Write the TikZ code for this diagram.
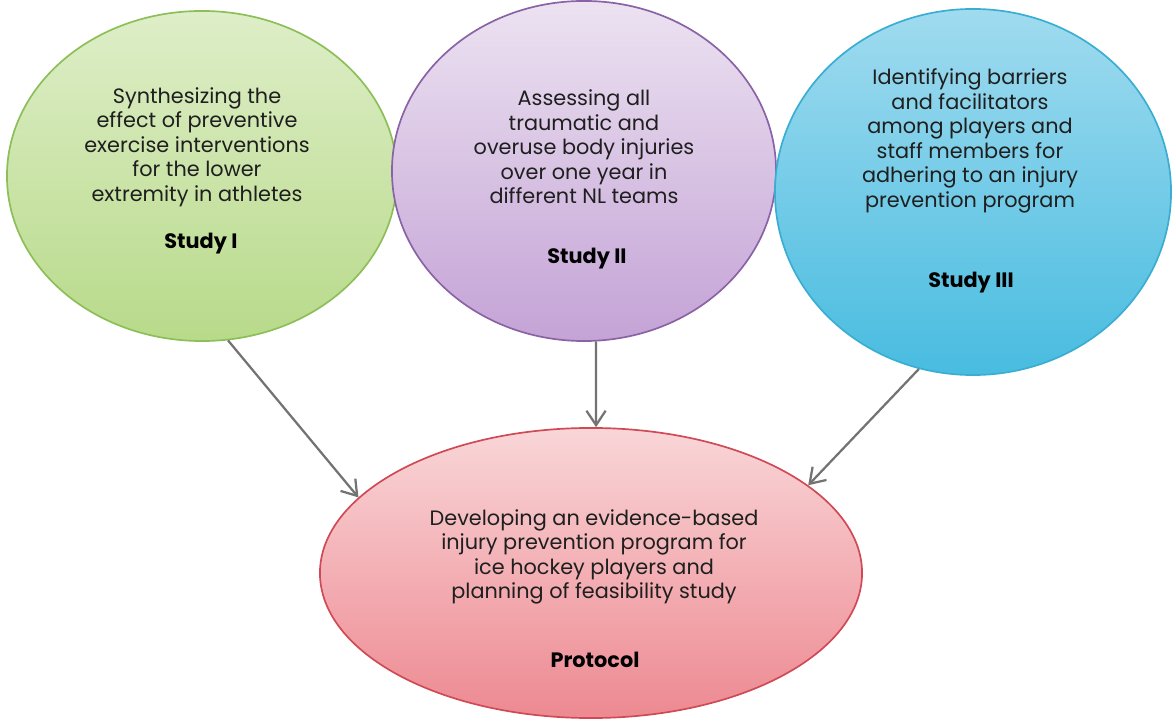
\documentclass[tikz,border=0pt]{standalone}
\usepackage{fontspec}
\setmainfont{Poppins}
\usetikzlibrary{shapes.geometric,arrows.meta}

\definecolor{greenline}{HTML}{8CBF57}
\definecolor{purpleline}{HTML}{8A63A6}
\definecolor{blueline}{HTML}{3AAED2}
\definecolor{redline}{HTML}{CF4A55}

\begin{document}
\begin{tikzpicture}[x=0.025cm,y=-0.025cm,
  bubble/.style={ellipse,draw,line width=1.2pt,inner sep=0pt},
  body/.style={align=center,text=black!88,font=\fontsize{14.8}{17.4}\selectfont},
  tag/.style={text=black,font=\fontsize{14.8}{17}\selectfont\bfseries},
  link/.style={draw=black!55,line width=1.6pt,-{Straight Barb[length=3.6mm,width=4.8mm]}}]
\useasboundingbox(0,0)rectangle(1176,720);
% the four bubbles
\node[bubble,draw=greenline,top color={rgb,255:red,222;green,238;blue,200},bottom color={rgb,255:red,184;green,218;blue,138},
  minimum width=9.75cm,minimum height=8.25cm](s1)at(202,176){};
\node[bubble,draw=purpleline,top color={rgb,255:red,236;green,226;blue,241},bottom color={rgb,255:red,196;green,163;blue,214},
  minimum width=9.6cm,minimum height=8.5cm](s2)at(584,171){};
\node[bubble,draw=blueline,top color={rgb,255:red,160;green,219;blue,239},bottom color={rgb,255:red,72;green,188;blue,224},
  minimum width=9.9cm,minimum height=9.15cm](s3)at(973,192){};
\node[bubble,draw=redline,top color={rgb,255:red,249;green,214;blue,216},bottom color={rgb,255:red,237;green,137;blue,145},
  minimum width=13.55cm,minimum height=7.25cm](pr)at(591,573){};
% texts
\node[body](t1)at(197,147){Synthesizing the\\effect of preventive\\exercise interventions\\for the lower\\extremity in athletes};
\node[tag](l1)at(201,244){Study I};
\node[body](t2)at(584,147){Assessing all\\traumatic and\\overuse body injuries\\over one year in\\different NL teams};
\node[tag](l2)at(587,259){Study II};
\node[body](t3)at(970,141){Identifying barriers\\and facilitators\\among players and\\staff members for\\adhering to an injury\\prevention program};
\node[tag](l3)at(971,283){Study III};
\node[body](t4)at(594,557){Developing an evidence-based\\injury prevention program for\\ice hockey players and\\planning of feasibility study};
\node[tag](l4)at(595,660){Protocol};
% arrows
\draw[link](s1.-81)--(pr.162);
\draw[link](s2.-86)--(pr.88);
\draw[link](s3.-107)--(pr.22);
\end{tikzpicture}
\end{document}
